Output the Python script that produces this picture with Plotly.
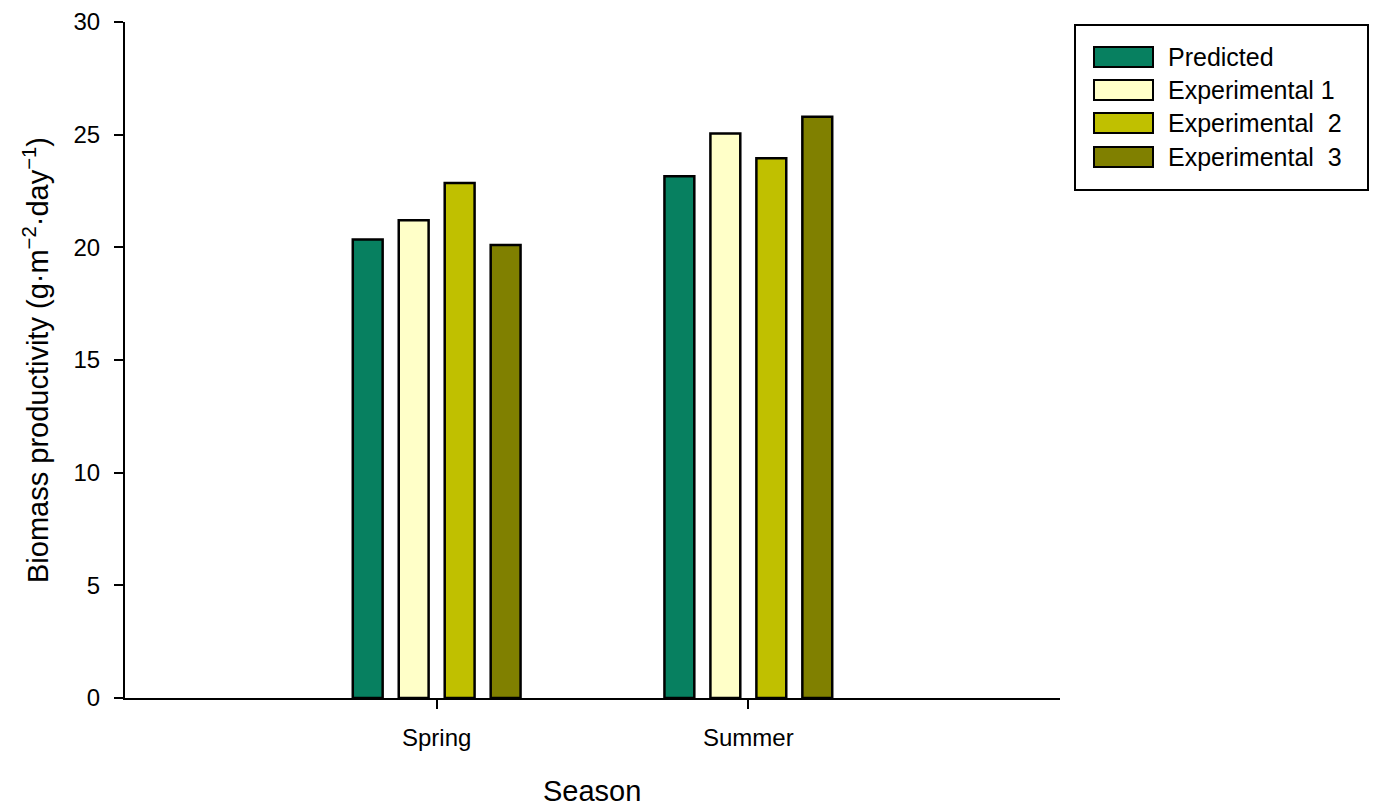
import plotly.graph_objects as go

seasons = ["Spring", "Summer"]
series_names = ["Predicted", "Experimental 1", "Experimental  2", "Experimental  3"]
predicted = [20.35, 23.15]
experimental1 = [21.2, 25.05]
experimental2 = [22.85, 23.95]
experimental3 = [20.1, 25.8]
colors = ["#078060", "#FFFFC8", "#C0C000", "#808000"]
y_ticks = [0, 5, 10, 15, 20, 25, 30]
x_title = "Season"
y_title = "Biomass productivity (g·m<sup>−2</sup>·day<sup>−1</sup>)"

values = [predicted, experimental1, experimental2, experimental3]

W, H = 1378, 805
# page body margin offset of 8px is compensated here
ML, MR, MT, MB = 117, 326, 14, 115
PW, PH = W - ML - MR, H - MT - MB
OFF = 8  # page offset
FONT = "Liberation Sans, Arial, sans-serif"


def px2x(px):
    return (px - OFF - ML) / PW


def py2y(py):
    return (OFF + H - MB - py) / PH


fig = go.Figure()
for name, vals, col in zip(series_names, values, colors):
    fig.add_trace(go.Bar(
        x=[0, 1], y=vals, name=name,
        marker=dict(color=col, line=dict(color="black", width=2.5)),
        showlegend=False,
    ))

shapes = []
annotations = []
shapes.append(dict(type="rect", xref="paper", yref="paper",
                   x0=px2x(1075), x1=px2x(1368), y0=py2y(190), y1=py2y(25),
                   line=dict(color="black", width=2), fillcolor="white"))
row_y = [57, 90, 123, 157]
for name, col, ry in zip(series_names, colors, row_y):
    shapes.append(dict(type="rect", xref="paper", yref="paper",
                       x0=px2x(1094), x1=px2x(1153), y0=py2y(ry + 10), y1=py2y(ry - 10),
                       line=dict(color="black", width=2), fillcolor=col))
    annotations.append(dict(xref="paper", yref="paper", x=px2x(1166), y=py2y(ry),
                            text=name.replace("  ", "&nbsp; "), showarrow=False,
                            xanchor="left", yanchor="middle",
                            font=dict(size=25, color="black", family=FONT)))

# axis titles
annotations.append(dict(xref="paper", yref="paper", x=px2x(592), y=py2y(791),
                        text=x_title, showarrow=False, xanchor="center", yanchor="middle",
                        font=dict(size=29, color="black", family=FONT)))
annotations.append(dict(xref="paper", yref="paper", x=px2x(36), y=py2y(360),
                        text=y_title, showarrow=False, textangle=-90,
                        xanchor="center", yanchor="middle",
                        font=dict(size=29, color="black", family=FONT)))

fig.update_layout(
    width=W, height=H,
    margin=dict(l=ML, r=MR, t=MT, b=MB),
    paper_bgcolor="white", plot_bgcolor="white",
    barmode="group", bargap=0.41, bargroupgap=0.35,
    font=dict(family=FONT, color="black"),
    shapes=shapes, annotations=annotations,
    xaxis=dict(
        range=[-1, 2], tickmode="array", tickvals=[0, 1], ticktext=seasons,
        showline=True, linecolor="black", linewidth=2,
        ticks="outside", ticklen=9, tickwidth=2, tickcolor="black",
        ticklabelstandoff=8, automargin=False,
        tickfont=dict(size=24), showgrid=False, zeroline=False,
    ),
    yaxis=dict(
        range=[0, 30], tickmode="array", tickvals=y_ticks,
        showline=True, linecolor="black", linewidth=2,
        ticks="outside", ticklen=9, tickwidth=2, tickcolor="black",
        ticklabelstandoff=9, automargin=False,
        tickfont=dict(size=24), showgrid=False, zeroline=False,
    ),
)

fig.write_html("out.html")
